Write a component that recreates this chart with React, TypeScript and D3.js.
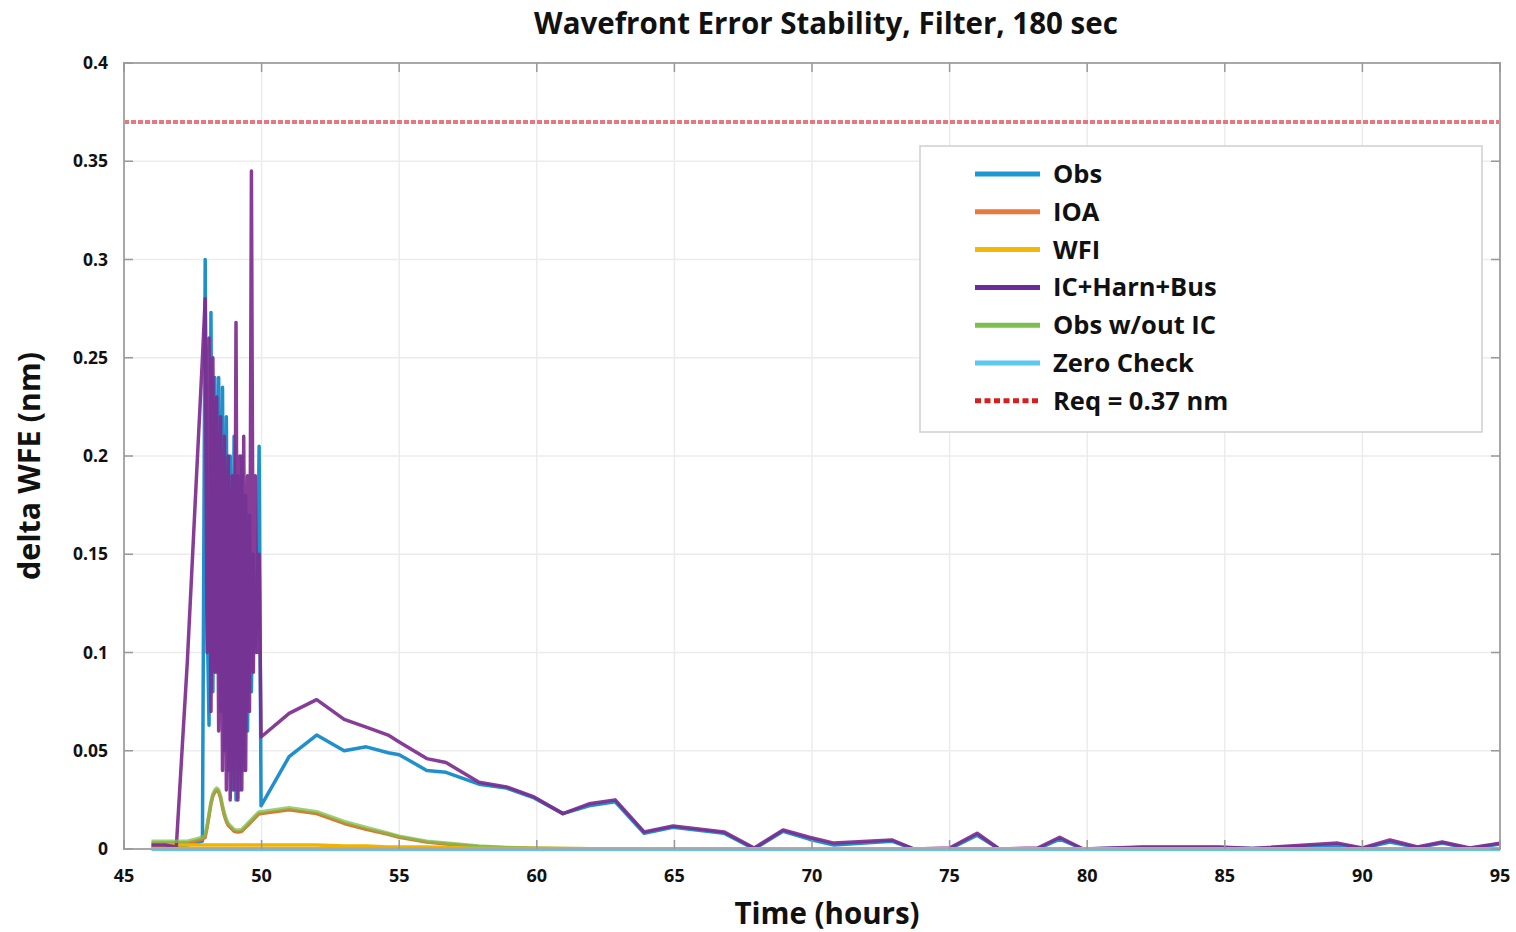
import React from "react";
import * as d3 from "d3";

// ---- Data ----
const xTicks = [45, 50, 55, 60, 65, 70, 75, 80, 85, 90, 95];
const yTicks = [0, 0.05, 0.1, 0.15, 0.2, 0.25, 0.3, 0.35, 0.4];
const yTickLabels = ["0", "0.05", "0.1", "0.15", "0.2", "0.25", "0.3", "0.35", "0.4"];

const hours = [
  46.0, 46.5, 46.9, 47.3, 47.6, 47.85,
  47.95, 48.02, 48.09, 48.16, 48.23, 48.30, 48.37, 48.44, 48.51, 48.58,
  48.65, 48.72, 48.79, 48.86, 48.93, 49.00, 49.07, 49.14, 49.21, 49.28,
  49.35, 49.42, 49.49, 49.56, 49.63, 49.70, 49.77, 49.84, 49.91, 49.98,
  51.0, 52.0, 53.0, 53.8, 54.6, 55.0, 56.0, 56.7, 57.9, 58.9, 59.9, 60.95,
  61.9, 62.85, 63.9, 64.95, 66.8, 67.9, 68.95, 69.9, 70.8, 72.9, 73.7, 75.0,
  76.0, 76.8, 78.2, 79.0, 79.85, 82.0, 84.8, 86.0, 89.1, 90.0, 91.0, 92.0,
  92.9, 93.9, 95.0,
];

const obsValues = [
  0.001, 0.001, 0.001, 0.002, 0.003, 0.004,
  0.30, 0.12, 0.063, 0.273, 0.08, 0.24, 0.09, 0.24, 0.07, 0.235,
  0.05, 0.22, 0.04, 0.20, 0.03, 0.21, 0.025, 0.19, 0.03, 0.20,
  0.04, 0.18, 0.06, 0.17, 0.08, 0.15, 0.10, 0.12, 0.205, 0.022,
  0.047, 0.058, 0.050, 0.052, 0.049, 0.048, 0.040, 0.039, 0.033, 0.031, 0.026, 0.018,
  0.022, 0.024, 0.008, 0.011, 0.008, 0.0, 0.009, 0.005, 0.002, 0.004, 0.0, 0.0,
  0.007, 0.0, 0.0, 0.005, 0.0, 0.0008, 0.0008, 0.0002, 0.002, 0.0003, 0.0035, 0.0008,
  0.003, 0.0003, 0.0025,
];

const icHarnBusValues = [
  0.002, 0.002, 0.001, 0.095, 0.18, 0.25,
  0.28, 0.10, 0.26, 0.07, 0.25, 0.09, 0.23, 0.06, 0.22, 0.04,
  0.21, 0.03, 0.20, 0.025, 0.19, 0.03, 0.268, 0.025, 0.20, 0.03,
  0.21, 0.04, 0.19, 0.07, 0.345, 0.09, 0.19, 0.10, 0.15, 0.057,
  0.069, 0.076, 0.066, 0.062, 0.058, 0.0545, 0.046, 0.044, 0.034, 0.0316, 0.0265, 0.018,
  0.023, 0.025, 0.0087, 0.0117, 0.0087, 0.0005, 0.0097, 0.006, 0.003, 0.0046, 0.0, 0.0005,
  0.008, 0.0, 0.0005, 0.006, 0.0, 0.001, 0.001, 0.0003, 0.003, 0.0005, 0.0046, 0.001,
  0.0036, 0.0005, 0.003,
];

const lowHours = [
  46.0, 46.5, 46.9, 47.3, 47.6, 47.85,
  47.95, 48.02, 48.09, 48.16, 48.23, 48.30, 48.37, 48.44, 48.51, 48.58,
  48.65, 48.72, 48.79, 48.86, 48.93, 49.00, 49.07, 49.14, 49.21, 49.28,
  49.35, 49.42, 49.49, 49.56, 49.63, 49.70, 49.77, 49.84, 49.91, 49.98,
  51.0, 52.0, 53.0, 53.8, 54.6, 55.0, 56.0, 56.7, 57.9, 58.9, 59.9, 60.95,
  63.0, 95.0,
];

const obsNoICValues = [
  0.004, 0.004, 0.004, 0.004, 0.005, 0.006,
  0.007, 0.012, 0.018, 0.024, 0.028, 0.030, 0.031, 0.030, 0.027, 0.022,
  0.018, 0.015, 0.013, 0.012, 0.011, 0.010, 0.0098, 0.0097, 0.0098, 0.010,
  0.011, 0.012, 0.013, 0.014, 0.015, 0.016, 0.017, 0.018, 0.019, 0.019,
  0.021, 0.019, 0.014, 0.011, 0.008, 0.0065, 0.004, 0.003, 0.0015, 0.0008, 0.0004, 0.0002,
  0.0, 0.0,
];

const ioaValues = [
  0.003, 0.003, 0.003, 0.003, 0.004, 0.005,
  0.006, 0.011, 0.017, 0.023, 0.027, 0.029, 0.030, 0.029, 0.026, 0.021,
  0.017, 0.014, 0.012, 0.011, 0.010, 0.009, 0.0088, 0.0087, 0.0088, 0.009,
  0.010, 0.011, 0.012, 0.013, 0.014, 0.015, 0.016, 0.017, 0.018, 0.018,
  0.020, 0.018, 0.013, 0.010, 0.0075, 0.006, 0.0035, 0.0025, 0.0012, 0.0006, 0.0003, 0.0001,
  0.0, 0.0,
];

const wfiValues = [
  0.002, 0.002, 0.002, 0.002, 0.002, 0.002,
  0.002, 0.002, 0.002, 0.002, 0.002, 0.002, 0.002, 0.002, 0.002, 0.002,
  0.002, 0.002, 0.002, 0.002, 0.002, 0.002, 0.002, 0.002, 0.002, 0.002,
  0.002, 0.002, 0.002, 0.002, 0.002, 0.002, 0.002, 0.002, 0.002, 0.002,
  0.002, 0.002, 0.0015, 0.0015, 0.001, 0.001, 0.001, 0.0008, 0.0006, 0.0005, 0.0004, 0.0003,
  0.0, 0.0,
];

const zeroHours = [46.0, 95.0];
const zeroValues = [0, 0];

const reqValue = 0.37;

const legendLabels = ["Obs", "IOA", "WFI", "IC+Harn+Bus", "Obs w/out IC", "Zero Check", "Req = 0.37 nm"];
const legendColors = ["#1f96d4", "#e8793a", "#f3b705", "#6c2c98", "#7dbf4f", "#5bc8f0", "#d62020"];

// ---- Layout ----
const W = 1516;
const H = 932;
const left = 124;
const right = 1500;
const top = 63;
const bottom = 849;
const FONT = "'Open Sans', 'DejaVu Sans', sans-serif";

export default function App() {
  const x = d3.scaleLinear().domain([45, 95]).range([left, right]);
  const y = d3.scaleLinear().domain([0, 0.4]).range([bottom, top]);

  const line = d3
    .line<[number, number]>()
    .x((d) => x(d[0]))
    .y((d) => y(d[1]));

  const zip = (hs: number[], vs: number[]) => hs.map((h, i) => [h, vs[i]] as [number, number]);

  const series = [
    { pts: zip(hours, obsValues), color: "#2090cc", w: 3.5, op: 1 },
    { pts: zip(lowHours, ioaValues), color: "#d9772e", w: 3.5, op: 1 },
    { pts: zip(lowHours, wfiValues), color: "#f0b400", w: 3.5, op: 1 },
    { pts: zip(hours, icHarnBusValues), color: "#7d2b8f", w: 3.5, op: 0.92 },
    { pts: zip(lowHours, obsNoICValues), color: "#7dbf4f", w: 3.5, op: 0.75 },
    { pts: zip(zeroHours, zeroValues), color: "#5bc8f0", w: 4, op: 1 },
  ];

  const legendX = 920;
  const legendY = 146;
  const legendW = 562;
  const legendH = 286;
  const rowY0 = 174;
  const rowGap = 37.8;

  return (
    <svg
      width={W}
      height={H}
      style={{ position: "absolute", left: 0, top: 0, background: "#fff" }}
      fontFamily={FONT}
    >
      <rect x={0} y={0} width={W} height={H} fill="#fff" />
      {/* grid */}
      {xTicks.map((t) => (
        <line key={"gx" + t} x1={x(t)} x2={x(t)} y1={top} y2={bottom} stroke="#ececec" strokeWidth={1.5} />
      ))}
      {yTicks.map((t) => (
        <line key={"gy" + t} x1={left} x2={right} y1={y(t)} y2={y(t)} stroke="#ececec" strokeWidth={1.5} />
      ))}

      {/* requirement line */}
      <line
        x1={left}
        x2={right}
        y1={y(reqValue)}
        y2={y(reqValue)}
        stroke="#e4606a"
        strokeWidth={4}
        strokeDasharray="5 2"
        opacity={0.85}
      />

      {/* series */}
      {series.map((s, i) => (
        <path
          key={"s" + i}
          d={line(s.pts) || ""}
          fill="none"
          stroke={s.color}
          strokeWidth={s.w}
          strokeOpacity={s.op}
          strokeLinejoin="round"
        />
      ))}

      {/* frame */}
      <rect x={left} y={top} width={right - left} height={bottom - top} fill="none" stroke="#a8a8a8" strokeWidth={2} />
      {xTicks.map((t) => (
        <g key={"tx" + t}>
          <line x1={x(t)} x2={x(t)} y1={bottom} y2={bottom - 9} stroke="#999" strokeWidth={1.5} />
          <line x1={x(t)} x2={x(t)} y1={top} y2={top + 9} stroke="#999" strokeWidth={1.5} />
        </g>
      ))}
      {yTicks.map((t) => (
        <g key={"ty" + t}>
          <line x1={left} x2={left + 9} y1={y(t)} y2={y(t)} stroke="#999" strokeWidth={1.5} />
          <line x1={right} x2={right - 9} y1={y(t)} y2={y(t)} stroke="#999" strokeWidth={1.5} />
        </g>
      ))}

      {/* tick labels */}
      {xTicks.map((t) => (
        <text key={"lx" + t} x={x(t)} y={882} textAnchor="middle" fontSize={18} fontWeight={700} fill="#111">
          {t}
        </text>
      ))}
      {yTicks.map((t, i) => (
        <text key={"ly" + t} x={108} y={y(t) + 6} textAnchor="end" fontSize={17.5} fontWeight={700} fill="#111">
          {yTickLabels[i]}
        </text>
      ))}

      {/* titles */}
      <text x={826} y={34} textAnchor="middle" fontSize={29.5} fontWeight={700} fill="#111">
        Wavefront Error Stability, Filter, 180 sec
      </text>
      <text x={827} y={924} textAnchor="middle" fontSize={29.5} fontWeight={700} fill="#111">
        Time (hours)
      </text>
      <text
        transform={`translate(40, 466) rotate(-90)`}
        textAnchor="middle"
        fontSize={30.5}
        fontWeight={700}
        fill="#111"
      >
        delta WFE (nm)
      </text>

      {/* legend */}
      <rect x={legendX} y={legendY} width={legendW} height={legendH} fill="#fff" stroke="#cfcfcf" strokeWidth={1.5} />
      {legendLabels.map((lab, i) => {
        const yy = rowY0 + i * rowGap;
        const isReq = i === legendLabels.length - 1;
        return (
          <g key={"lg" + i}>
            <line
              x1={975}
              x2={1040}
              y1={yy}
              y2={yy}
              stroke={legendColors[i]}
              strokeWidth={5}
              strokeDasharray={isReq ? "6 3.5" : undefined}
            />
            <text x={1053} y={yy + 9} fontSize={25.5} fontWeight={700} fill="#111">
              {lab}
            </text>
          </g>
        );
      })}
    </svg>
  );
}
